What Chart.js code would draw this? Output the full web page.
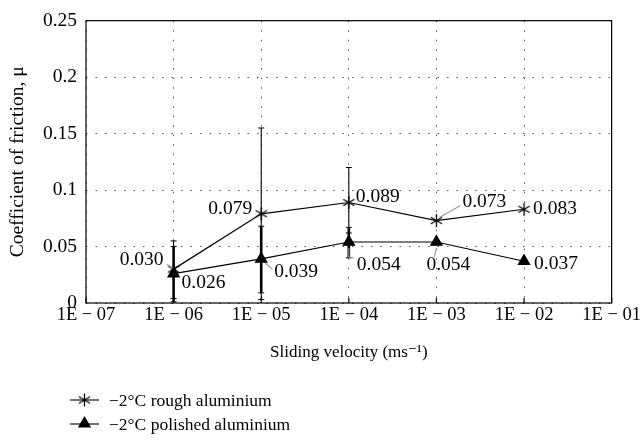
<!DOCTYPE html>
<html>
<head>
<meta charset="utf-8">
<script src="https://cdn.jsdelivr.net/npm/chart.js@4.4.0/dist/chart.umd.min.js"></script>
<style>
  html, body { margin: 0; padding: 0; background: #fff; }
</style>
</head>
<body>
<canvas id="frictionChart" width="642" height="442"></canvas>
<script>
// sliding velocity (m/s) and friction values
const velocities = [1e-6, 1e-5, 1e-4, 1e-3, 1e-2];
const roughMu = [0.030, 0.079, 0.089, 0.073, 0.083];
const polishedMu = [0.026, 0.039, 0.054, 0.054, 0.037];

// error bar bounds (null = no bar drawn)
const roughLow = [0.004, 0.003, 0.062, null, null];
const roughHigh = [0.055, 0.155, 0.120, null, null];
const polishedLow = [0.001, 0.009, 0.040, null, null];
const polishedHigh = [0.050, 0.068, 0.067, null, null];

const xTickValues = [1e-7, 1e-6, 1e-5, 1e-4, 1e-3, 1e-2, 1e-1];
const xTickLabels = ['1E \u2212 07', '1E \u2212 06', '1E \u2212 05', '1E \u2212 04', '1E \u2212 03', '1E \u2212 02', '1E \u2212 01'];
const yTickLabels = ['0', '0.05', '0.1', '0.15', '0.2', '0.25'];

const seriesNames = ['\u22122\u00B0C rough aluminium', '\u22122\u00B0C polished aluminium'];

const FONT = "'Liberation Serif', 'DejaVu Serif', serif";

// six-armed asterisk marker
function makeStar(size) {
  const c = document.createElement('canvas');
  c.width = size; c.height = size;
  const g = c.getContext('2d');
  const m = size / 2, r = size / 2 - 1;
  g.strokeStyle = '#000';
  g.lineWidth = 1.3;
  g.beginPath();
  for (let i = 0; i < 3; i++) {
    const a = Math.PI / 2 + i * Math.PI / 3;
    g.moveTo(m + r * Math.cos(a), m + r * Math.sin(a));
    g.lineTo(m - r * Math.cos(a), m - r * Math.sin(a));
  }
  g.stroke();
  return c;
}
const starImg = makeStar(15);

function drawTriangle(ctx, x, y, r) {
  ctx.beginPath();
  ctx.moveTo(x, y - r);
  ctx.lineTo(x + r * 0.95, y + r * 0.65);
  ctx.lineTo(x - r * 0.95, y + r * 0.65);
  ctx.closePath();
  ctx.fillStyle = '#000';
  ctx.fill();
}

// label placement relative to each point (pixels)
const labelSpots = [
  [
    { dx: -10, dy: -9, align: 'right', leader: [[-7, -5], [-1, -1]] },
    { dx: -9, dy: -5, align: 'right' },
    { dx: 7, dy: -6, align: 'left' },
    { dx: 26, dy: -19, align: 'left', leader: [[3, -3], [24, -15]] },
    { dx: 9, dy: 0, align: 'left' }
  ],
  [
    { dx: 8, dy: 9, align: 'left' },
    { dx: 13, dy: 13, align: 'left', leader: [[4, 4], [11, 10]] },
    { dx: 8, dy: 23, align: 'left', leader: [[0, 6], [0, 15], [5, 16]] },
    { dx: -10, dy: 23, align: 'left', leader: [[0, 6], [-2, 15]] },
    { dx: 10, dy: 3, align: 'left' }
  ]
];

const frictionPlugin = {
  id: 'friction',
  beforeDatasetsDraw(chart) {
    const ctx = chart.ctx;
    const xs = chart.scales.x, ys = chart.scales.y;
    const bars = [
      { low: polishedLow, high: polishedHigh, width: 2.6 },
      { low: roughLow, high: roughHigh, width: 1.1 }
    ];
    ctx.save();
    ctx.strokeStyle = '#000';
    bars.forEach(b => {
      velocities.forEach((v, i) => {
        if (b.low[i] == null) return;
        const x = xs.getPixelForValue(v);
        const y1 = ys.getPixelForValue(b.low[i]);
        const y2 = ys.getPixelForValue(b.high[i]);
        ctx.lineWidth = b.width;
        ctx.beginPath();
        ctx.moveTo(x, y1); ctx.lineTo(x, y2);
        ctx.stroke();
        ctx.lineWidth = 1;
        ctx.beginPath();
        ctx.moveTo(x - 3, y1); ctx.lineTo(x + 3, y1);
        ctx.moveTo(x - 3, y2); ctx.lineTo(x + 3, y2);
        ctx.stroke();
      });
    });
    ctx.restore();
  },
  afterDraw(chart) {
    const ctx = chart.ctx;
    const a = chart.chartArea;
    const xs = chart.scales.x;
    ctx.save();
    // frame
    ctx.strokeStyle = '#000';
    ctx.lineWidth = 1.2;
    ctx.strokeRect(a.left, a.top, a.right - a.left, a.bottom - a.top);
    // inward ticks at the bottom
    ctx.beginPath();
    xTickValues.forEach(v => {
      const x = xs.getPixelForValue(v);
      ctx.moveTo(x, a.bottom); ctx.lineTo(x, a.bottom - 5);
    });
    ctx.stroke();

    // value labels
    ctx.font = '19.5px ' + FONT;
    ctx.textBaseline = 'middle';
    chart.data.datasets.forEach((ds, di) => {
      const meta = chart.getDatasetMeta(di);
      meta.data.forEach((pt, i) => {
        const spot = labelSpots[di][i];
        if (spot.leader) {
          ctx.strokeStyle = '#9a9a9a';
          ctx.lineWidth = 1.1;
          ctx.beginPath();
          spot.leader.forEach((p, k) => {
            if (k === 0) ctx.moveTo(pt.x + p[0], pt.y + p[1]);
            else ctx.lineTo(pt.x + p[0], pt.y + p[1]);
          });
          ctx.stroke();
        }
        ctx.fillStyle = '#000';
        ctx.textAlign = spot.align;
        ctx.fillText(ds.data[i].y.toFixed(3), pt.x + spot.dx, pt.y + spot.dy);
      });
    });

    // legend below the axis title
    const rows = [400, 424];
    ctx.font = '17.5px ' + FONT;
    ctx.textAlign = 'left';
    rows.forEach((y, i) => {
      ctx.strokeStyle = '#000';
      ctx.lineWidth = 1.1;
      ctx.beginPath();
      ctx.moveTo(70, y); ctx.lineTo(99, y);
      ctx.stroke();
      if (i === 0) ctx.drawImage(starImg, 84.5 - starImg.width / 2, y - starImg.height / 2);
      else drawTriangle(ctx, 84.5, y - 1, 7);
      ctx.fillStyle = '#000';
      ctx.fillText(seriesNames[i], 109, y + 1);
    });
    ctx.restore();
  }
};

const ctx = document.getElementById('frictionChart');

new Chart(ctx, {
  type: 'line',
  data: {
    datasets: [
      {
        label: seriesNames[0],
        data: velocities.map((v, i) => ({ x: v, y: roughMu[i] })),
        borderColor: '#000',
        borderWidth: 1.2,
        pointStyle: starImg,
        pointRadius: 7,
        tension: 0
      },
      {
        label: seriesNames[1],
        data: velocities.map((v, i) => ({ x: v, y: polishedMu[i] })),
        borderColor: '#000',
        backgroundColor: '#000',
        borderWidth: 1.2,
        pointStyle: 'triangle',
        pointRadius: 6.5,
        pointBackgroundColor: '#000',
        pointBorderColor: '#000',
        tension: 0
      }
    ]
  },
  options: {
    responsive: false,
    animation: false,
    layout: { padding: { left: 6, right: 27, top: 16, bottom: 79 } },
    plugins: {
      legend: { display: false },
      tooltip: { enabled: false }
    },
    scales: {
      x: {
        type: 'logarithmic',
        min: 1e-7,
        max: 1e-1,
        afterBuildTicks: scale => {
          scale.ticks = xTickValues.map(v => ({ value: v, major: true }));
        },
        afterFit: scale => { scale.height = 60; },
        ticks: {
          color: '#000',
          font: { family: FONT, size: 18.5 },
          padding: 1,
          maxRotation: 0,
          autoSkip: false,
          callback: (value, index) => xTickLabels[index]
        },
        grid: { color: '#555', lineWidth: 1, drawTicks: false },
        border: { display: false, dash: [1.5, 8] },
        title: {
          display: true,
          text: 'Sliding velocity (ms\u207B\u00B9)',
          color: '#000',
          font: { family: FONT, size: 17 },
          padding: { top: 0, bottom: 0 }
        }
      },
      y: {
        min: 0,
        max: 0.25,
        afterFit: scale => { scale.width = 80; },
        ticks: {
          stepSize: 0.05,
          color: '#000',
          font: { family: FONT, size: 19.5 },
          padding: 9,
          callback: (value, index) => yTickLabels[index]
        },
        grid: { color: '#555', lineWidth: 1, drawTicks: false },
        border: { display: false, dash: [1.5, 8] },
        title: {
          display: true,
          text: 'Coefficient of friction, \u03BC',
          color: '#000',
          font: { family: FONT, size: 19.5 },
          padding: { top: 0, bottom: 0 }
        }
      }
    }
  },
  plugins: [frictionPlugin]
});
</script>
</body>
</html>
